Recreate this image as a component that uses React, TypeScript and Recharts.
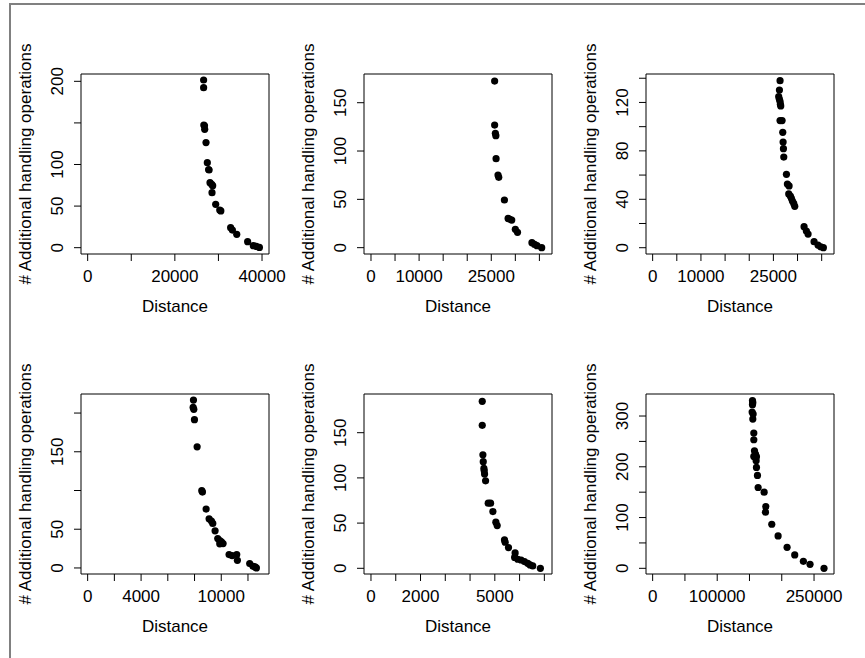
import React from 'react';
import { ScatterChart, Scatter, XAxis, YAxis, ReferenceArea } from 'recharts';

const FONT = '"Liberation Sans", Arial, Helvetica, sans-serif';

// panel 1
const p1Distance = [26600, 26600, 26650, 26800, 26850, 27150, 27450, 27750, 27850, 28070, 28450, 28680, 28530, 29370, 30300, 30550, 32800, 33200, 34200, 36700, 38000, 38700, 39400];
const p1Ops = [201.6, 192.4, 147.5, 146.5, 142.3, 126.3, 102.2, 94, 93.4, 78.2, 76.2, 74.5, 66.1, 52.1, 45.3, 44.2, 24, 21.2, 16, 7.2, 2.4, 1.5, 0.3];

// panel 2
const p2Distance = [25700, 25700, 25850, 25950, 26000, 26400, 26550, 27730, 28500, 28850, 29250, 30000, 30450, 33450, 34000, 34500, 35480];
const p2Ops = [172.4, 126.9, 118.3, 115.9, 92.1, 75.2, 72.8, 49.3, 30.3, 29.3, 28.6, 19, 15.9, 5.2, 3.4, 2.1, 0];

// panel 3
const p3Distance = [26380, 26250, 26100, 26250, 26380, 26450, 26520, 26380, 26800, 26940, 27010, 27080, 27150, 27700, 27900, 28250, 28180, 28520, 28730, 28940, 29210, 29420, 31350, 31830, 32180, 33420, 34240, 34800, 35350];
const p3Ops = [138, 130.3, 124.8, 122.6, 120.7, 118.5, 117.1, 105, 105, 95.3, 87.3, 81.8, 74.9, 60.6, 52.6, 51, 44.4, 42.7, 40.8, 38.6, 36.6, 34.2, 17.4, 13.8, 11.3, 5, 2.2, 0.8, 0];

// panel 4
const p4Distance = [7920, 7895, 7945, 7995, 8194, 8543, 8593, 8867, 9091, 9265, 9365, 9539, 9738, 9888, 10012, 10137, 9888, 10585, 10809, 11158, 11208, 12130, 12380, 12530, 12630];
const p4Ops = [216.8, 207.3, 204.8, 191.4, 156.4, 99.8, 98, 76, 63.5, 60.5, 57.5, 47.9, 38, 35.4, 33.7, 31.5, 31.1, 17.3, 16, 17.3, 9.9, 5.6, 2.2, 1.3, 0];

// panel 5
const p5Distance = [4492, 4492, 4519, 4533, 4559, 4573, 4586, 4627, 4734, 4828, 4922, 5042, 5096, 5391, 5418, 5552, 5820, 5800, 5927, 6061, 6196, 6330, 6424, 6531, 6839];
const p5Ops = [184.7, 158.1, 125.6, 117.9, 110.5, 107.9, 104.2, 96.8, 72, 72, 62.8, 51, 47.3, 31.4, 28.8, 22.9, 17, 12, 10, 9.2, 7.4, 5.5, 3.7, 2.6, 0];

// panel 6
const p6Distance = [154640, 155150, 154640, 154120, 155670, 155150, 156700, 156700, 157730, 159280, 156700, 160820, 160310, 160820, 162370, 163400, 172680, 175260, 174740, 184540, 194330, 208250, 220100, 233500, 243810, 265460];
const p6Ops = [330.3, 326.3, 322.4, 307.9, 303.9, 294.1, 266.4, 253.3, 231.6, 225, 220.4, 220, 211.8, 198.7, 182.9, 159.2, 150, 121.7, 110.5, 86.8, 63.8, 41.4, 26.3, 13.8, 7.9, 0];

// ticks and which of them R kept a label for
const p1XTicks = [0, 10000, 20000, 30000, 40000];
const p1XLabels = [0, 20000, 40000];
const p1YTicks = [0, 50, 100, 150, 200];
const p1YLabels = [0, 50, 100, 200];

const p2XTicks = [0, 5000, 10000, 15000, 20000, 25000, 30000, 35000];
const p2XLabels = [0, 10000, 25000];
const p2YTicks = [0, 50, 100, 150];
const p2YLabels = [0, 50, 100, 150];

const p3XTicks = [0, 5000, 10000, 15000, 20000, 25000, 30000, 35000];
const p3XLabels = [0, 10000, 25000];
const p3YTicks = [0, 20, 40, 60, 80, 100, 120, 140];
const p3YLabels = [0, 40, 80, 120];

const p4XTicks = [0, 2000, 4000, 6000, 8000, 10000, 12000];
const p4XLabels = [0, 4000, 10000];
const p4YTicks = [0, 50, 100, 150, 200];
const p4YLabels = [0, 50, 150];

const p5XTicks = [0, 1000, 2000, 3000, 4000, 5000, 6000, 7000];
const p5XLabels = [0, 2000, 5000];
const p5YTicks = [0, 50, 100, 150];
const p5YLabels = [0, 50, 100, 150];

const p6XTicks = [0, 50000, 100000, 150000, 200000, 250000];
const p6XLabels = [0, 100000, 250000];
const p6YTicks = [0, 50, 100, 150, 200, 250, 300];
const p6YLabels = [0, 100, 200, 300];

const X_TITLE = 'Distance';
const Y_TITLE = '# Additional handling operations';

const CHART_W = 288;
const CHART_H = 320;
const MARGIN = { top: 74, right: 19, bottom: 6, left: 21 };
const AXIS_W = 60;
const AXIS_H = 60;
const PLOT_L = MARGIN.left + AXIS_W;
const PLOT_W = CHART_W - PLOT_L - MARGIN.right;
const PLOT_H = CHART_H - MARGIN.top - MARGIN.bottom - AXIS_H;

interface PanelProps {
  left: number;
  top: number;
  xs: number[];
  ys: number[];
  xDomain: [number, number];
  yDomain: [number, number];
  xTicks: number[];
  xLabels: number[];
  yTicks: number[];
  yLabels: number[];
}

const Panel: React.FC<PanelProps> = ({ left, top, xs, ys, xDomain, yDomain, xTicks, xLabels, yTicks, yLabels }) => {
  const data = xs.map((d, i) => ({ distance: d, ops: ys[i] }));

  const xTick = (props: any) => {
    const { x, y, payload } = props;
    if (!xLabels.includes(payload.value)) return <g />;
    return (
      <text x={x} y={y + 15} textAnchor="middle" dominantBaseline="central" fontSize={17} fontFamily={FONT} fill="#000">
        {payload.value}
      </text>
    );
  };

  const yTick = (props: any) => {
    const { x, y, payload } = props;
    if (!yLabels.includes(payload.value)) return <g />;
    const cx = x - 16;
    return (
      <text x={cx} y={y} transform={`rotate(-90 ${cx} ${y})`} textAnchor="middle" dominantBaseline="central" fontSize={17} fontFamily={FONT} fill="#000">
        {payload.value}
      </text>
    );
  };

  return (
    <div style={{ position: 'absolute', left, top, width: CHART_W, height: CHART_H }}>
      <ScatterChart width={CHART_W} height={CHART_H} margin={MARGIN}>
        <XAxis
          type="number"
          dataKey="distance"
          domain={xDomain}
          allowDataOverflow
          ticks={xTicks}
          interval={0}
          height={AXIS_H}
          axisLine={false}
          tickSize={7}
          tickMargin={0}
          tickLine={{ stroke: '#000' }}
          tick={xTick}
        />
        <YAxis
          type="number"
          dataKey="ops"
          domain={yDomain}
          allowDataOverflow
          ticks={yTicks}
          interval={0}
          width={AXIS_W}
          axisLine={false}
          tickSize={7}
          tickMargin={0}
          tickLine={{ stroke: '#000' }}
          tick={yTick}
        />
        <ReferenceArea x1={xDomain[0]} x2={xDomain[1]} y1={yDomain[0]} y2={yDomain[1]} fill="none" stroke="#000" strokeWidth={1} fillOpacity={0} />
        <Scatter
          data={data}
          isAnimationActive={false}
          shape={(p: any) => <circle cx={p.cx} cy={p.cy} r={3.6} fill="#000" />}
        />
      </ScatterChart>
      <div
        style={{
          position: 'absolute',
          left: PLOT_L + PLOT_W / 2,
          top: MARGIN.top + PLOT_H + 52,
          transform: 'translate(-50%, -50%)',
          fontFamily: FONT,
          fontSize: 17,
          whiteSpace: 'nowrap',
          lineHeight: 1,
        }}
      >
        {X_TITLE}
      </div>
      <div
        style={{
          position: 'absolute',
          left: PLOT_L - 55,
          top: MARGIN.top + PLOT_H / 2,
          transform: 'translate(-50%, -50%) rotate(-90deg)',
          fontFamily: FONT,
          fontSize: 17,
          whiteSpace: 'nowrap',
          lineHeight: 1.15,
        }}
      >
        {Y_TITLE}
      </div>
    </div>
  );
};

export default function App() {
  return (
    <div style={{ position: 'absolute', left: 0, top: 0, width: 865, height: 658, background: '#fff', overflow: 'hidden' }}>
      <div style={{ position: 'absolute', left: 9, top: 3, width: 900, height: 700, borderTop: '2px solid #808080', borderLeft: '2px solid #808080' }} />
      <Panel left={0} top={0} xs={p1Distance} ys={p1Ops} xDomain={[-1530, 41600]} yDomain={[-7.6, 208.8]} xTicks={p1XTicks} xLabels={p1XLabels} yTicks={p1YTicks} yLabels={p1YLabels} />
      <Panel left={283} top={0} xs={p2Distance} ys={p2Ops} xDomain={[-1452, 37620]} yDomain={[-6.55, 179.7]} xTicks={p2XTicks} xLabels={p2XLabels} yTicks={p2YTicks} yLabels={p2YLabels} />
      <Panel left={565} top={0} xs={p3Distance} ys={p3Ops} xDomain={[-1378, 37550]} yDomain={[-5.2, 143.5]} xTicks={p3XTicks} xLabels={p3XLabels} yTicks={p3YTicks} yLabels={p3YLabels} />
      <Panel left={0} top={320} xs={p4Distance} ys={p4Ops} xDomain={[-498, 13574]} yDomain={[-7.8, 224.6]} xTicks={p4XTicks} xLabels={p4XLabels} yTicks={p4YTicks} yLabels={p4YLabels} />
      <Panel left={283} top={320} xs={p5Distance} ys={p5Ops} xDomain={[-282, 7309]} yDomain={[-6.3, 192.8]} xTicks={p5XTicks} xLabels={p5XLabels} yTicks={p5YTicks} yLabels={p5YLabels} />
      <Panel left={565} top={320} xs={p6Distance} ys={p6Ops} xDomain={[-10309, 280928]} yDomain={[-11.2, 343.4]} xTicks={p6XTicks} xLabels={p6XLabels} yTicks={p6YTicks} yLabels={p6YLabels} />
    </div>
  );
}
